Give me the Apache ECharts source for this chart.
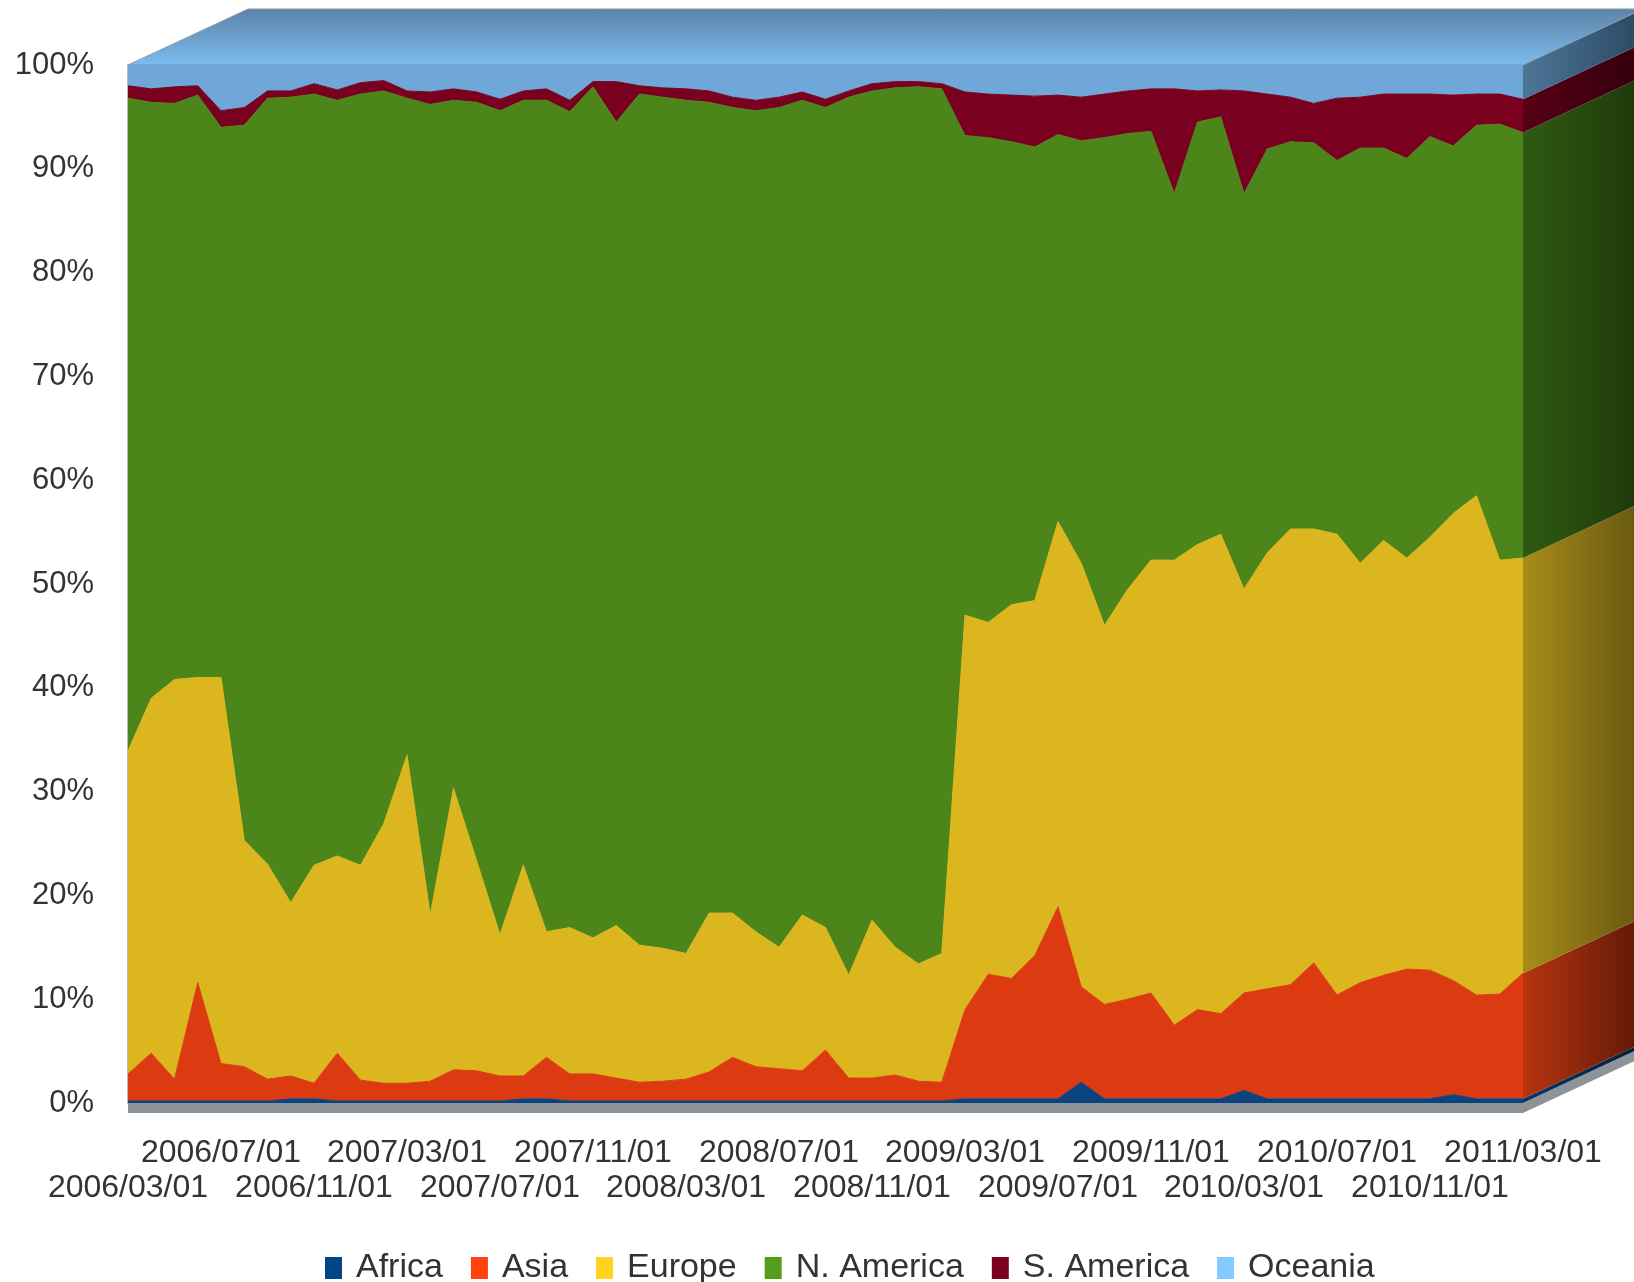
<!DOCTYPE html>
<html>
<head>
<meta charset="utf-8">
<title>Share by region</title>
<script src="https://cdn.jsdelivr.net/npm/echarts@6/dist/echarts.min.js"></script>
<style>
  html, body { margin: 0; padding: 0; background: #fff; }
  #main { width: 1634px; height: 1282px; }
</style>
</head>
<body>
<div id="main"></div>
<script>
// monthly categories
var dates = [
  '2006/03/01','2006/04/01','2006/05/01','2006/06/01','2006/07/01','2006/08/01','2006/09/01','2006/10/01',
  '2006/11/01','2006/12/01','2007/01/01','2007/02/01','2007/03/01','2007/04/01','2007/05/01','2007/06/01',
  '2007/07/01','2007/08/01','2007/09/01','2007/10/01','2007/11/01','2007/12/01','2008/01/01','2008/02/01',
  '2008/03/01','2008/04/01','2008/05/01','2008/06/01','2008/07/01','2008/08/01','2008/09/01','2008/10/01',
  '2008/11/01','2008/12/01','2009/01/01','2009/02/01','2009/03/01','2009/04/01','2009/05/01','2009/06/01',
  '2009/07/01','2009/08/01','2009/09/01','2009/10/01','2009/11/01','2009/12/01','2010/01/01','2010/02/01',
  '2010/03/01','2010/04/01','2010/05/01','2010/06/01','2010/07/01','2010/08/01','2010/09/01','2010/10/01',
  '2010/11/01','2010/12/01','2011/01/01','2011/02/01','2011/03/01'
];

// shares in percent
var africa = [
  0.2,0.2,0.2,0.2,0.2,0.2,0.2,0.4,0.4,0.2,0.2,0.2,0.2,0.2,0.2,0.2,0.2,0.4,0.4,0.2,
  0.2,0.2,0.2,0.2,0.2,0.2,0.2,0.2,0.2,0.2,0.2,0.2,0.2,0.2,0.2,0.2,0.4,0.4,0.4,0.4,
  0.4,2.0,0.4,0.4,0.4,0.4,0.4,0.4,1.2,0.4,0.4,0.4,0.4,0.4,0.4,0.4,0.4,0.8,0.4,0.4,0.4
];
var asia = [
  2.6,4.6,2.1,11.4,3.6,3.3,2.1,2.2,1.5,4.6,2.0,1.7,1.7,1.9,3.0,2.9,2.4,2.2,4.0,2.6,
  2.6,2.2,1.8,1.9,2.1,2.8,4.2,3.3,3.1,2.9,4.9,2.2,2.2,2.5,1.9,1.8,8.6,12.0,11.6,13.8,
  18.5,9.2,9.1,9.6,10.2,7.1,8.6,8.2,9.4,10.6,11.0,13.1,10.0,11.2,11.9,12.5,12.4,11.0,10.0,10.1,12.1
];
var europe = [
  31.1,34.2,38.5,29.4,37.2,21.8,20.7,16.7,21.0,19.0,20.7,25.0,31.6,16.0,27.1,20.2,13.6,20.3,12.1,14.1,
  13.1,14.7,13.2,12.8,12.1,15.3,13.9,13.0,11.7,15.0,11.8,9.9,15.2,12.3,11.3,12.4,38.0,33.9,36.0,34.2,
  37.1,40.8,36.5,39.5,41.7,44.8,44.8,46.2,38.9,42.0,43.9,41.8,44.4,40.4,41.9,39.6,41.7,45.0,48.1,41.8,40.0
];
var nAmerica = [
  62.9,57.4,55.5,56.1,53.0,68.9,73.8,77.6,74.3,72.8,74.3,70.6,63.3,78.1,66.3,73.1,79.4,73.7,80.1,78.6,
  82.0,77.4,82.0,82.0,82.2,78.1,77.6,79.1,80.9,78.5,79.0,84.6,79.9,82.8,84.5,83.3,46.2,46.7,44.6,43.7,
  37.3,40.7,47.0,43.9,41.3,35.3,40.7,40.2,38.1,38.9,37.3,37.2,36.0,40.0,37.8,38.5,38.6,35.4,35.7,42.0,41.0
];
var sAmerica = [
  1.2,1.3,1.6,0.9,1.6,1.7,0.7,0.6,1.0,1.0,1.1,1.0,0.7,1.2,1.1,1.0,1.1,0.9,1.1,1.1,
  0.5,3.9,0.8,0.9,1.1,1.1,1.0,1.0,1.0,0.8,0.8,0.6,0.7,0.6,0.5,0.5,4.2,4.2,4.5,4.9,
  3.8,4.2,4.2,4.1,4.1,10.1,3.0,2.6,9.9,5.3,4.3,3.8,6.0,4.9,5.2,6.2,4.1,4.9,3.0,2.9,3.2
];
var oceania = [
  2.0,2.3,2.1,2.0,4.4,4.1,2.5,2.5,1.8,2.4,1.7,1.5,2.5,2.6,2.3,2.6,3.3,2.5,2.3,3.4,
  1.6,1.6,2.0,2.2,2.3,2.5,3.1,3.4,3.1,2.6,3.3,2.5,1.8,1.6,1.6,1.8,2.6,2.8,2.9,3.0,
  2.9,3.1,2.8,2.5,2.3,2.3,2.5,2.4,2.5,2.8,3.1,3.7,3.2,3.1,2.8,2.8,2.8,2.9,2.8,2.8,3.3
];
var yTicks = [0, 100, 10];

var regions = [
  { name: 'Africa',      data: africa,   color: '#0b437e', legend: '#004586', side: ['#0a3766', '#041d38'] },
  { name: 'Asia',        data: asia,     color: '#dc3a10', legend: '#ff420e', side: ['#b83410', '#5e1806'] },
  { name: 'Europe',      data: europe,   color: '#dcb61f', legend: '#ffd320', side: ['#a88c1a', '#665610'] },
  { name: 'N. America',  data: nAmerica, color: '#4c861a', legend: '#579d1c', side: ['#2f5a12', '#1e380a'] },
  { name: 'S. America',  data: sAmerica, color: '#7a001f', legend: '#7e0021', side: ['#560016', '#33000c'] },
  { name: 'Oceania',     data: oceania,  color: '#6fa7d8', legend: '#83caff', side: ['#4d7697', '#2a4862'] }
];

var depthX = 120, depthY = -56;
var fontFamily = '"Liberation Sans", Arial, sans-serif';

// top face, right side and floor of the 3d block
function renderBlock(params, api) {
  var last = dates.length - 1;
  var topLeft = api.coord([0, yTicks[1]]);
  var baseLeft = api.coord([0, yTicks[0]]);
  var baseRight = api.coord([last, yTicks[0]]);
  var x0 = topLeft[0], x1 = baseRight[0];
  var children = [];

  // floor slab
  var t = 10;
  children.push({
    type: 'polygon',
    shape: { points: [
      [x0, baseLeft[1]], [x1, baseRight[1]], [x1 + depthX, baseRight[1] + depthY],
      [x1 + depthX, baseRight[1] + depthY + t], [x1, baseRight[1] + t], [x0, baseLeft[1] + t]
    ] },
    style: { fill: '#8e9398' }
  });

  // right side bands
  var cum = 0;
  regions.forEach(function (r) {
    var lo = cum;
    cum += r.data[last];
    var pLo = api.coord([last, lo]);
    var pHi = api.coord([last, cum]);
    children.push({
      type: 'polygon',
      shape: { points: [
        [x1, pLo[1]], [x1, pHi[1]], [x1 + depthX, pHi[1] + depthY], [x1 + depthX, pLo[1] + depthY]
      ] },
      style: {
        fill: new echarts.graphic.LinearGradient(0, 0, 1, 0, [
          { offset: 0, color: r.side[0] }, { offset: 1, color: r.side[1] }
        ])
      }
    });
  });

  // top face
  children.push({
    type: 'polygon',
    shape: { points: [
      [x0, topLeft[1]], [x1, topLeft[1]], [x1 + depthX, topLeft[1] + depthY], [x0 + depthX, topLeft[1] + depthY]
    ] },
    style: {
      fill: new echarts.graphic.LinearGradient(0, 0, 0, 1, [
        { offset: 0, color: '#5d84a8' },
        { offset: 0.45, color: '#6a9cc8' },
        { offset: 1, color: '#7dbdf0' }
      ]),
      stroke: '#8a9bab',
      lineWidth: 1
    }
  });

  return { type: 'group', children: children };
}

var series = regions.map(function (r) {
  return {
    name: r.name,
    type: 'line',
    stack: 'share',
    data: r.data,
    symbol: 'none',
    smooth: false,
    color: r.legend,
    lineStyle: { width: 1, color: r.color },
    areaStyle: { color: r.color, opacity: 1 },
    emphasis: { disabled: true }
  };
});

series.push({
  type: 'custom',
  name: 'block',
  renderItem: renderBlock,
  data: [[dates.length - 1, yTicks[1]]],
  encode: { x: 0, y: 1 },
  clip: false,
  silent: true,
  z: 1
});

// two label rows: every 8th month starting at 0 below, starting at 4 above
function dateAxis(offsetMonths, margin) {
  return {
    type: 'category',
    data: dates,
    boundaryGap: false,
    position: 'bottom',
    axisLine: { show: false },
    axisTick: { show: false },
    splitLine: { show: false },
    axisLabel: {
      interval: function (index) { return index % 8 === offsetMonths; },
      margin: margin,
      fontSize: 32,
      color: '#333333',
      fontFamily: fontFamily
    }
  };
}

var myChart = echarts.init(document.getElementById('main'));
var option = {
  animation: false,
  backgroundColor: '#ffffff',
  textStyle: { fontFamily: fontFamily },
  grid: {
    left: 128,
    right: 111,
    top: 65,
    bottom: 179,
    outerBoundsMode: 'none'
  },
  legend: {
    data: regions.map(function (r) {
      return { name: r.name, itemStyle: { color: r.legend } };
    }),
    left: 320,
    top: 1246,
    icon: 'rect',
    itemWidth: 17,
    itemHeight: 22,
    itemGap: 28,
    textStyle: { fontSize: 34, color: '#333333', fontFamily: fontFamily, padding: [0, 0, 0, 9] }
  },
  xAxis: [dateAxis(0, 69), dateAxis(4, 34)],
  yAxis: {
    type: 'value',
    min: yTicks[0],
    max: yTicks[1],
    interval: yTicks[2],
    axisLine: { show: true, lineStyle: { color: 'rgba(140,140,140,0.6)', width: 2 } },
    axisTick: { show: false },
    splitLine: { show: false },
    axisLabel: {
      margin: 34,
      fontSize: 31,
      color: '#333333',
      fontFamily: fontFamily,
      formatter: '{value}%'
    }
  },
  series: series
};
myChart.setOption(option);
</script>
</body>
</html>
